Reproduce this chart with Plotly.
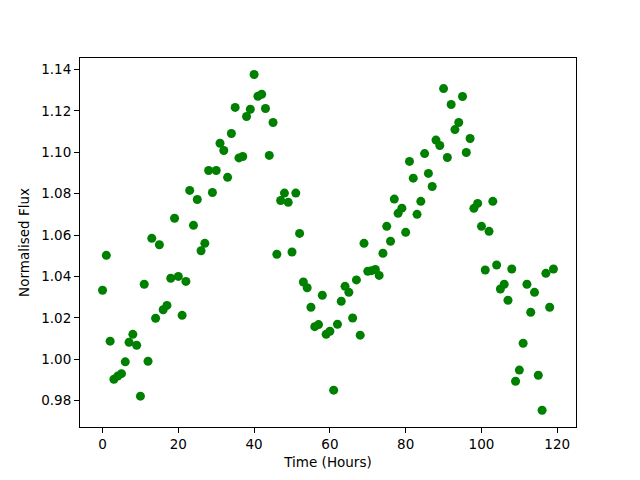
import plotly.graph_objects as go

time_hours = list(range(120))
flux = [
    1.0333, 1.0502, 1.0087, 0.9903, 0.9918, 0.9930, 0.9987, 1.0082, 1.0120, 1.0067,
    0.9821, 1.0362, 0.9990, 1.0584, 1.0198, 1.0553, 1.0239, 1.0260, 1.0391, 1.0681,
    1.0400, 1.0212, 1.0376, 1.0816, 1.0647, 1.0772, 1.0524, 1.0560, 1.0912, 1.0806,
    1.0912, 1.1044, 1.1009, 1.0879, 1.1091, 1.1217, 1.0973, 1.0980, 1.1173, 1.1208,
    1.1376, 1.1271, 1.1281, 1.1212, 1.0985, 1.1144, 1.0507, 1.0767, 1.0803, 1.0758,
    1.0518, 1.0803, 1.0608, 1.0373, 1.0345, 1.0251, 1.0157, 1.0167, 1.0309, 1.0120,
    1.0135, 0.9850, 1.0169, 1.0280, 1.0352, 1.0323, 1.0199, 1.0383, 1.0116, 1.0560,
    1.0425, 1.0428, 1.0434, 1.0405, 1.0512, 1.0642, 1.0570, 1.0774, 1.0705, 1.0730,
    1.0613, 1.0956, 1.0875, 1.0700, 1.0763, 1.0994, 1.0898, 1.0835, 1.1059, 1.1033,
    1.1308, 1.0975, 1.1231, 1.1110, 1.1144, 1.1270, 1.0999, 1.1067, 1.0729, 1.0753,
    1.0642, 1.0431, 1.0618, 1.0763, 1.0455, 1.0339, 1.0362, 1.0285, 1.0436, 0.9893,
    0.9947, 1.0077, 1.0362, 1.0227, 1.0323, 0.9922, 0.9753, 1.0415, 1.0251, 1.0436,
]
x_ticks = [0, 20, 40, 60, 80, 100, 120]
y_ticks = [0.98, 1.00, 1.02, 1.04, 1.06, 1.08, 1.10, 1.12, 1.14]

fig = go.Figure()
fig.add_trace(go.Scatter(
    x=time_hours, y=flux, mode="markers",
    marker=dict(color="#008000", size=9, line=dict(width=0)),
    showlegend=False,
))

font = dict(family="DejaVu Sans", size=13.5, color="black")
axis_common = dict(
    showline=True, linecolor="black", linewidth=1, mirror=True,
    ticks="outside", ticklen=5, tickwidth=1, tickcolor="black",
    showgrid=False, zeroline=False, tickfont=font, automargin=False,
)
fig.update_xaxes(
    range=[-5.95, 124.95], tickvals=x_ticks, ticktext=[str(v) for v in x_ticks],
    title=dict(text="Time (Hours)", font=font, standoff=6), **axis_common,
)
fig.update_yaxes(
    range=[0.9672, 1.1456], tickvals=y_ticks, ticktext=[f"{v:.2f}" for v in y_ticks],
    title=dict(text="Normalised Flux", font=font, standoff=8), **axis_common,
)
fig.update_layout(
    width=640, height=480,
    margin=dict(l=72, r=72, t=50, b=61, pad=0),
    plot_bgcolor="white", paper_bgcolor="white",
    font=font,
)
fig.write_html("out.html")
